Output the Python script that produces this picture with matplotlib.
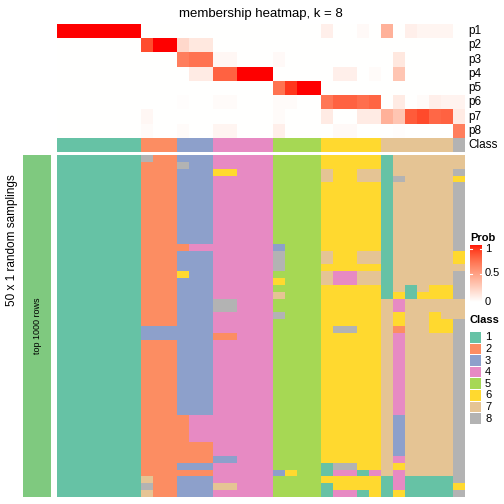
import numpy as np
import matplotlib
matplotlib.use("Agg")
import matplotlib.pyplot as plt
from matplotlib.colors import ListedColormap

plt.rcParams['font.family'] = ['Liberation Sans', 'DejaVu Sans']

W, H = 504, 504

# ---- data ----
row_names = ["p1", "p2", "p3", "p4", "p5", "p6", "p7", "p8"]
#          class1 (7)            class2      class3        class4                  class5           class6                    class7                        c8
p1 = [1, 1, 1, 1, 1, 1, 1,   0, 0, 0,   0, 0, 0,      0, 0, 0, 0, 0,          0, 0, 0, 0,      .08, 0, 0, .03, 0,        .4, 0, .08, .05, .05, .05,    0]
p2 = [0, 0, 0, 0, 0, 0, 0,   .85, 1, 1, .2, .12, .12, 0, 0, 0, 0, 0,          0, 0, 0, 0,      0, 0, 0, 0, 0,            0, 0, 0, 0, 0, 0,             0]
p3 = [0, 0, 0, 0, 0, 0, 0,   0, 0, 0,   .65, .7, .7,  .04, .04, 0, 0, 0,      .03, 0, 0, 0,    0, 0, 0, 0, 0,            0, .12, 0, 0, 0, 0,           0]
p4 = [0, 0, 0, 0, 0, 0, 0,   0, 0, 0,   0, .1, .1,    .77, .77, 1, 1, 1,      0, 0, 0, 0,      0, .08, .08, 0, .02,      0, .3, 0, 0, 0, 0,            0]
p5 = [0, 0, 0, 0, 0, 0, 0,   0, 0, 0,   0, 0, 0,      0, 0, 0, 0, 0,          .7, .92, 1, 1,   0, 0, 0, 0, 0,            0, 0, 0, 0, 0, 0,             0]
p6 = [0, 0, 0, 0, 0, 0, 0,   0, 0, 0,   .01, 0, 0,    .02, .02, 0, 0, 0,      .02, .02, 0, 0,  .68, .77, .77, .72, .76,  0, .1, 0, .02, .08, .06,     .06]
p7 = [0, 0, 0, 0, 0, 0, 0,   .04, 0, 0, 0, 0, 0,      0, 0, 0, 0, 0,          .02, 0, 0, 0,    .1, 0, 0, .1, .1,         .4, .3, .8, .86, .75, .77,    .1]
p8 = [0, 0, 0, 0, 0, 0, 0,   .02, 0, 0, .02, 0, 0,    .05, .05, 0, 0, 0,      .08, 0, 0, 0,    0, .03, .03, 0, 0,        0, .01, 0, 0, 0, 0,           .65]
prob = np.array([p1, p2, p3, p4, p5, p6, p7, p8])

col_class = [1] * 7 + [2] * 3 + [3] * 3 + [4] * 5 + [5] * 4 + [6] * 5 + [7] * 6 + [8]

n_samplings = 50
# (first row, last row, first col, last col, class) where a sampling differs from the class row
deviations = [
    (0, 0, 7, 7, 8), (1, 1, 10, 10, 8), (2, 2, 13, 14, 6),
    (13, 13, 10, 10, 2), (13, 13, 11, 12, 4), (17, 17, 10, 10, 6),
    (21, 22, 13, 14, 8), (25, 26, 7, 9, 3), (26, 26, 13, 14, 2),
    (38, 41, 10, 10, 2), (38, 41, 11, 12, 4), (42, 44, 10, 12, 2),
    (46, 46, 10, 12, 2), (44, 44, 13, 14, 3), (48, 48, 13, 14, 7),
    (47, 47, 7, 7, 7), (48, 48, 7, 7, 8), (49, 49, 7, 7, 7),
    (13, 13, 18, 18, 3), (14, 16, 18, 18, 8), (18, 18, 18, 18, 6),
    (20, 20, 18, 18, 7), (23, 23, 18, 18, 8),
    (46, 46, 18, 18, 3), (46, 46, 19, 19, 6),
    (2, 3, 22, 22, 7), (2, 3, 25, 26, 7),
    (14, 15, 22, 22, 7), (14, 15, 25, 26, 7),
    (17, 18, 22, 22, 7), (17, 18, 23, 24, 4), (17, 18, 25, 26, 7),
    (25, 25, 23, 24, 8),
    (45, 45, 22, 22, 1), (45, 45, 23, 24, 8),
    (46, 46, 22, 22, 1), (46, 46, 23, 24, 4), (46, 46, 25, 25, 1), (46, 46, 26, 26, 4),
    (48, 49, 22, 22, 1), (49, 49, 23, 24, 4), (49, 49, 25, 25, 1),
    (0, 20, 27, 27, 1), (47, 49, 27, 27, 1), (47, 49, 29, 32, 1),
    (3, 3, 28, 28, 8), (20, 20, 28, 28, 6), (21, 22, 28, 28, 4),
    (23, 24, 28, 28, 6), (25, 25, 28, 28, 2), (26, 37, 28, 28, 4),
    (38, 43, 28, 28, 3), (44, 44, 28, 28, 4), (45, 45, 28, 28, 6),
    (46, 48, 28, 28, 4), (49, 49, 28, 28, 6),
    (19, 20, 29, 29, 1), (20, 20, 30, 30, 6), (19, 20, 31, 32, 6),
    (23, 25, 31, 31, 6), (24, 25, 32, 32, 6),
    (0, 1, 33, 33, 7), (3, 3, 33, 33, 6), (14, 15, 33, 33, 6),
    (16, 16, 33, 33, 7), (21, 23, 33, 33, 7), (48, 48, 33, 33, 6),
]

class_labels = ["1", "2", "3", "4", "5", "6", "7", "8"]
class_colors = ["#66C2A5", "#FC8D62", "#8DA0CB", "#E78AC3",
                "#A6D854", "#FFD92F", "#E5C494", "#B3B3B3"]

membership = np.tile(col_class, (n_samplings, 1))
for r0, r1, c0, c1, k in deviations:
    membership[r0:r1 + 1, c0:c1 + 1] = k


# white -> red in LAB space, like colorRamp2
def lab_to_rgb(lab):
    L, a, b = lab[..., 0], lab[..., 1], lab[..., 2]
    fy = (L + 16) / 116
    fx = fy + a / 500
    fz = fy - b / 200

    def finv(t):
        return np.where(t > 6 / 29, t ** 3, 3 * (6 / 29) ** 2 * (t - 4 / 29))
    X, Y, Z = 0.95047 * finv(fx), finv(fy), 1.08883 * finv(fz)
    r = 3.2406 * X - 1.5372 * Y - 0.4986 * Z
    g = -0.9689 * X + 1.8758 * Y + 0.0415 * Z
    bb = 0.0557 * X - 0.2040 * Y + 1.0570 * Z
    rgb = np.stack([r, g, bb], axis=-1)
    rgb = np.where(rgb <= 0.0031308, 12.92 * rgb, 1.055 * np.abs(rgb) ** (1 / 2.4) - 0.055)
    return np.clip(rgb, 0, 1)


white_lab = np.array([100.0, 0.0, 0.0])
red_lab = np.array([53.24, 80.09, 67.20])


def prob_rgb(v):
    v = np.asarray(v, dtype=float)[..., None]
    return lab_to_rgb(white_lab + (red_lab - white_lab) * v)


def box(x0, y0, x1, y1):
    return [x0 / W, 1 - y1 / H, (x1 - x0) / W, (y1 - y0) / H]


def bare(ax):
    ax.set_xticks([])
    ax.set_yticks([])
    for s in ax.spines.values():
        s.set_visible(False)


fig = plt.figure(figsize=(W / 100, H / 100), dpi=100)
class_cmap = ListedColormap(class_colors)
ncol = len(col_class)

x0, x1 = 57, 465

# probability rows
ax = fig.add_axes(box(x0, 24, x1, 138))
ax.imshow(prob_rgb(prob), aspect="auto", interpolation="nearest")
bare(ax)
for i, name in enumerate(row_names):
    ax.text(1.008, 1 - (i + 0.5) / len(row_names), name, transform=ax.transAxes,
            ha="left", va="center", fontsize=8.5)
ax.set_title("membership heatmap, k = 8", fontsize=9.5, pad=5)

# class annotation row
ax = fig.add_axes(box(x0, 138, x1, 152))
ax.imshow(np.array([col_class]) - 1, cmap=class_cmap, vmin=-0.5, vmax=7.5,
          aspect="auto", interpolation="nearest")
bare(ax)
ax.text(1.008, 0.5, "Class", transform=ax.transAxes, ha="left", va="center", fontsize=8.5)

# samplings
ax = fig.add_axes(box(x0, 155, x1, 497))
ax.imshow(membership - 1, cmap=class_cmap, vmin=-0.5, vmax=7.5,
          aspect="auto", interpolation="nearest")
bare(ax)

# left bar
ax = fig.add_axes(box(23, 155, 51, 497))
ax.set_facecolor("#7FC97F")
bare(ax)
ax.text(0.5, 0.5, "top 1000 rows", transform=ax.transAxes, rotation=90,
        ha="center", va="center", fontsize=6.5)
fig.text(12 / W, 1 - 240 / H, "50 x 1 random samplings", rotation=90,
         ha="center", va="center", fontsize=8.5)

# Prob legend
fig.text(470 / W, 1 - 238 / H, "Prob", fontsize=8, fontweight="bold", ha="left", va="center")
ax = fig.add_axes(box(470, 245, 482, 302))
grad = np.linspace(1, 0, 100)[:, None]
ax.imshow(prob_rgb(grad), aspect="auto", extent=[0, 1, 0, 1])
ax.set_xlim(0, 1)
ax.set_ylim(0, 1)
bare(ax)
for v in [0.5, 0.93]:
    ax.plot([0, 0.2], [v, v], color="white", lw=0.8)
    ax.plot([0.8, 1], [v, v], color="white", lw=0.8)
for v, lab in [(0.93, "1"), (0.5, "0.5"), (0.0, "0")]:
    fig.text(485 / W, 1 - (302 - 57 * v) / H, lab, fontsize=8, ha="left", va="center")

# Class legend
fig.text(470 / W, 1 - 320 / H, "Class", fontsize=8, fontweight="bold", ha="left", va="center")
for i, (lab, c) in enumerate(zip(class_labels, class_colors)):
    yt = 332 + 11.6 * i
    fig.patches.append(plt.Rectangle((470 / W, 1 - (yt + 10.5) / H), 11 / W, 10.5 / H,
                                     transform=fig.transFigure, facecolor=c, edgecolor="none"))
    fig.text(485 / W, 1 - (yt + 5.3) / H, lab, fontsize=8, ha="left", va="center")

fig.savefig("out.png", dpi=100)
